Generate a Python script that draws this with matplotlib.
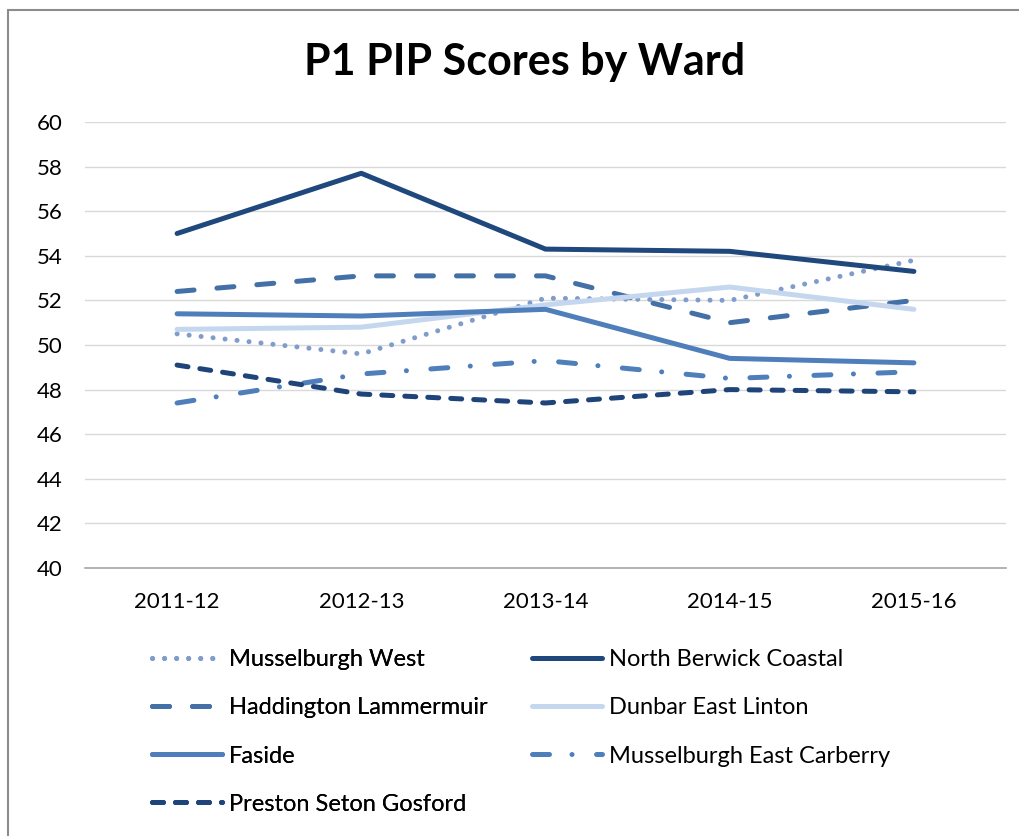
import matplotlib.pyplot as plt
from matplotlib.patches import Rectangle

plt.rcParams['font.family'] = ['Lato', 'DejaVu Sans']

years = ['2011-12', '2012-13', '2013-14', '2014-15', '2015-16']

musselburgh_west = [50.5, 49.6, 52.1, 52.0, 53.8]
north_berwick = [55.0, 57.7, 54.3, 54.2, 53.3]
haddington = [52.4, 53.1, 53.1, 51.0, 52.0]
dunbar = [50.7, 50.8, 51.8, 52.6, 51.6]
faside = [51.4, 51.3, 51.6, 49.4, 49.2]
musselburgh_east = [47.4, 48.7, 49.3, 48.5, 48.8]
preston = [49.1, 47.8, 47.4, 48.0, 47.9]

fig = plt.figure(figsize=(10.2, 8.36), dpi=100)
ax = fig.add_axes([85 / 1020, 1 - 568 / 836, 921 / 1020, 446 / 836])

lw = 3.6
x = range(len(years))

series = [
    ('Musselburgh West', musselburgh_west, '#7F9CCB', (0, (0.01, 2.4))),
    ('North Berwick Coastal', north_berwick, '#1F487C', '-'),
    ('Haddington Lammermuir', haddington, '#4470A8', (0, (3.4, 4.6))),
    ('Dunbar East Linton', dunbar, '#C5D7EE', '-'),
    ('Faside', faside, '#4F7FBB', '-'),
    ('Musselburgh East Carberry', musselburgh_east, '#4F7FBB', (0, (3.4, 4.5, 0.01, 4.9))),
    ('Preston Seton Gosford', preston, '#1F447A', (0, (2.2, 2.4))),
]

handles = {}
for name, vals, col, ls in series:
    h, = ax.plot(x, vals, color=col, lw=lw, linestyle=ls,
                 dash_capstyle='round', solid_capstyle='round', label=name)
    handles[name] = h

ax.set_xlim(-0.5, 4.5)
ax.set_ylim(40, 60)
ax.set_yticks(range(40, 61, 2))
ax.set_xticks(list(x))
ax.set_xticklabels(years)
ax.grid(axis='y', color='#D9D9D9', lw=1)
ax.set_axisbelow(True)
for s in ['top', 'right', 'left']:
    ax.spines[s].set_visible(False)
ax.spines['bottom'].set_color('#A6A6A6')
ax.spines['bottom'].set_linewidth(1.2)
ax.tick_params(axis='y', length=0, pad=16, labelsize=16)
ax.tick_params(axis='x', length=0, pad=17, labelsize=16)

fig.text(525 / 1020, 1 - 62 / 836, 'P1 PIP Scores by Ward', ha='center', va='center',
         fontsize=31, fontweight='bold')

col1 = ['Musselburgh West', 'Haddington Lammermuir', 'Faside', 'Preston Seton Gosford']
col2 = ['North Berwick Coastal', 'Dunbar East Linton', 'Musselburgh East Carberry']
leg_kw = dict(loc='upper left', frameon=False, fontsize=17, handlelength=2.95,
              handletextpad=0.3, labelspacing=1.15)
leg1 = fig.legend([handles[n] for n in col1], col1,
                  bbox_to_anchor=(131 / 1020, 1 - 628 / 836), **leg_kw)
fig.legend([handles[n] for n in col2], col2,
           bbox_to_anchor=(511 / 1020, 1 - 628 / 836), **leg_kw)
fig.add_artist(leg1)

# chart frame (partly cropped in original)
fig.add_artist(Rectangle((8 / 1020, -0.2), 1.2, 1.2 - 10 / 836, transform=fig.transFigure,
                         fill=False, edgecolor='#8C8C8C', lw=1.5))

fig.savefig('out.png', dpi=100)
